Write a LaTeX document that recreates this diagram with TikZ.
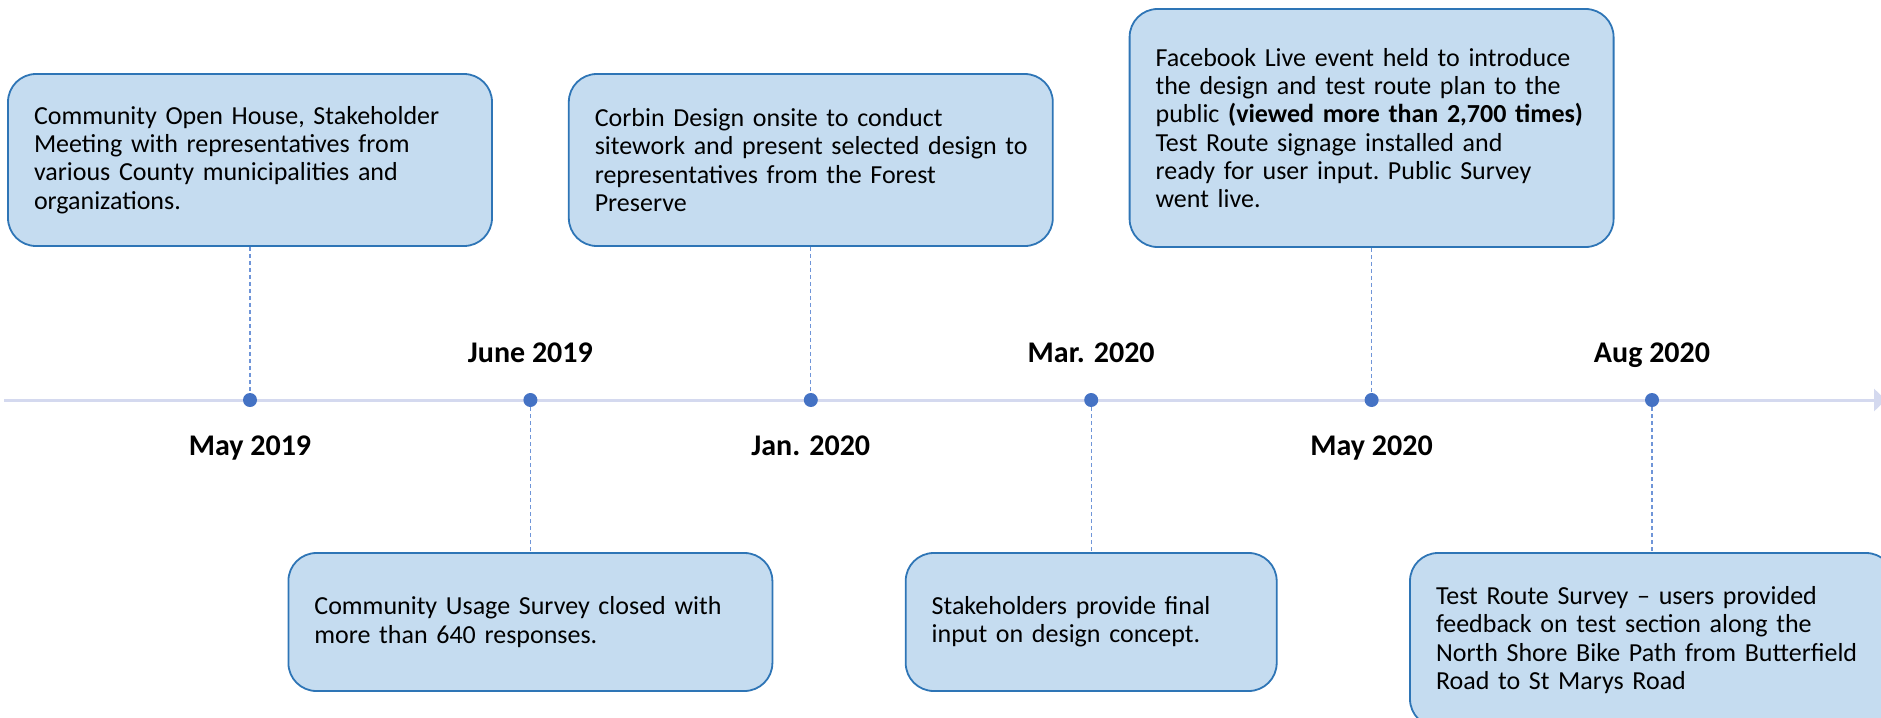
\documentclass[tikz,border=0pt]{standalone}
\usepackage{fontspec}
\setmainfont{Carlito}
\usetikzlibrary{arrows.meta,positioning}
\definecolor{boxfill}{HTML}{C5DCF0}
\definecolor{boxline}{HTML}{2E75B6}
\definecolor{dotblue}{HTML}{4472C4}
\definecolor{axisline}{HTML}{D4D9EF}
\definecolor{linkblue}{HTML}{6F95D8}

\begin{document}
\begin{tikzpicture}[x=0.5pt, y=-0.5pt,
                  event/.style = {draw=boxline, fill=boxfill, line width=0.9pt, rounded corners=14pt, text width=216pt, inner xsep=13pt, inner ysep=0pt, align=left, font=\fontsize{13}{14.15}\selectfont\frenchspacing},
                  dot/.style = {circle, fill=dotblue, inner sep=0pt, minimum size=7pt},
                  date/.style = {anchor=base, font=\fontsize{15}{18}\selectfont\bfseries},
                  link/.style = {draw=linkblue, line width=0.6pt, dash pattern=on 2pt off 1.5pt}]
                  \useasboundingbox (0,0) rectangle (1881,718);
                  \coordinate (start) at (4,400);
                  \coordinate (end) at (1886,400);
                  \draw[axisline, line width=1.5pt, -{Triangle[width=11pt,length=6pt]}] (start) -- (end);
                  \node[dot] (d1) at (250,400) {};
                  \node[dot] (d2) at (530.4,400) {};
                  \node[dot] (d3) at (810.8,400) {};
                  \node[dot] (d4) at (1091.2,400) {};
                  \node[dot] (d5) at (1371.6,400) {};
                  \node[dot] (d6) at (1652,400) {};
                  \node[date] (m1) at (250,455) {May 2019};
                  \node[date] (m2) at (530.4,362) {June 2019};
                  \node[date] (m3) at (810.8,455) {Jan. 2020};
                  \node[date] (m4) at (1091.2,362) {Mar. 2020};
                  \node[date] (m5) at (1371.6,455) {May 2020};
                  \node[date] (m6) at (1652,362) {Aug 2020};
                  \node[event, minimum height=86pt] (e1) at (250,160) {Community Open House, Stakeholder\\ Meeting with representatives from\\ various County municipalities and\\ organizations.};
                  \node[event, minimum height=69pt] (e2) at (530.4,622) {Community Usage Survey closed with\\ more than 640 responses.};
                  \node[event, minimum height=86pt] (e3) at (810.8,160) {Corbin Design onsite to conduct\\ \mbox{sitework and present selected design to}\\ representatives from the Forest\\ Preserve};
                  \node[event, minimum height=69pt, text width=159.5pt] (e4) at (1091.2,622) {Stakeholders provide final\\ input on design concept.};
                  \node[event, minimum height=119pt] (e5) at (1371.6,128) {Facebook Live event held to introduce\\ the design and test route plan to the\\ \mbox{public \textbf{(viewed more than 2,700 times)}}\\ Test Route signage installed and\\ ready for user input. Public Survey\\ went live.};
                  \node[event, minimum height=87pt] (e6) at (1652,640) {Test Route Survey -- users provided\\ feedback on test section along the\\ \mbox{North Shore Bike Path from Butterfield}\\ Road to St Marys Road};
                  \draw[link] (e1) -- (d1);
                  \draw[link] (d2) -- (e2);
                  \draw[link] (e3) -- (d3);
                  \draw[link] (d4) -- (e4);
                  \draw[link] (e5) -- (d5);
                  \draw[link] (d6) -- (e6);
              \end{tikzpicture}
\end{document}
